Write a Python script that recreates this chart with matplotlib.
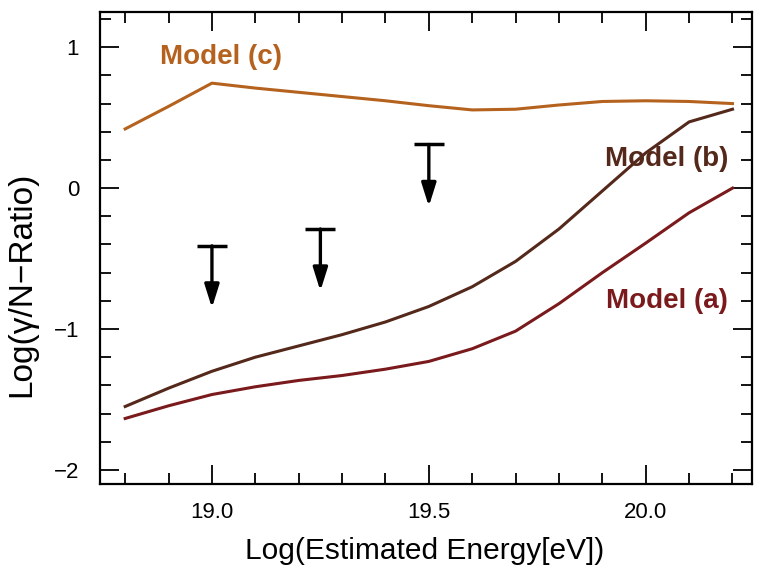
import matplotlib
matplotlib.use("Agg")
import matplotlib.pyplot as plt
from matplotlib.ticker import MultipleLocator

plt.rcParams['font.family'] = ['Liberation Sans', 'DejaVu Sans']

# Log10 of estimated primary energy (eV)
energy = [18.8, 18.9, 19.0, 19.1, 19.2, 19.3, 19.4, 19.5,
          19.6, 19.7, 19.8, 19.9, 20.0, 20.1, 20.2]

# Predicted log(gamma/N) ratios for three models
model_a = [-1.635, -1.545, -1.465, -1.41, -1.365, -1.33, -1.285, -1.23,
           -1.14, -1.015, -0.82, -0.60, -0.39, -0.175, 0.0]
model_b = [-1.55, -1.42, -1.30, -1.20, -1.12, -1.04, -0.95, -0.84,
           -0.70, -0.52, -0.29, -0.02, 0.25, 0.47, 0.56]
model_c = [0.42, 0.58, 0.745, 0.71, 0.68, 0.65, 0.62, 0.585,
           0.555, 0.56, 0.59, 0.615, 0.62, 0.615, 0.60]

# Observed upper limits
limit_energy = [19.0, 19.25, 19.5]
limit_value = [-0.41, -0.29, 0.31]

color_a = '#7a1a1c'
color_b = '#54281a'
color_c = '#b5621f'

fig = plt.figure(figsize=(7.6, 5.69), dpi=100)
ax = fig.add_axes([0.1316, 0.1494, 0.8579, 0.8295])

ax.plot(energy, model_c, color=color_c, lw=2.2)
ax.plot(energy, model_b, color=color_b, lw=2.2)
ax.plot(energy, model_a, color=color_a, lw=2.2)

arrow_len = 0.44
for xv, yv in zip(limit_energy, limit_value):
    ax.plot([xv], [yv], marker='_', ms=22, mew=2.5, color='black')
    ax.annotate('', xy=(xv, yv - arrow_len), xytext=(xv, yv),
                arrowprops=dict(arrowstyle='-|>,head_length=0.7,head_width=0.22',
                                lw=2.4, color='black', mutation_scale=20,
                                shrinkA=0, shrinkB=0))

ax.text(18.88, 0.93, 'Model (c)', color=color_c, fontsize=20, fontweight='bold',
        va='center', ha='left')
ax.text(20.19, 0.21, 'Model (b)', color=color_b, fontsize=20, fontweight='bold',
        va='center', ha='right')
ax.text(20.19, -0.80, 'Model (a)', color=color_a, fontsize=20, fontweight='bold',
        va='center', ha='right')

ax.set_xlim(18.742, 20.245)
ax.set_ylim(-2.1, 1.25)
ax.xaxis.set_minor_locator(MultipleLocator(0.1))
ax.yaxis.set_minor_locator(MultipleLocator(0.2))
ax.set_xticks([19.0, 19.5, 20.0])
ax.set_xticklabels(['19.0', '19.5', '20.0'])
ax.set_yticks([-2, -1, 0, 1])
ax.set_yticklabels(['\u22122', '\u22121', '0', '1'])

ax.tick_params(which='both', direction='in', top=True, right=True,
               labelsize=16, width=1.3)
ax.tick_params(axis='x', which='both', pad=13)
ax.tick_params(axis='y', which='both', pad=15)
ax.tick_params(which='major', length=14)
ax.tick_params(which='minor', length=8)
for sp in ax.spines.values():
    sp.set_linewidth(1.6)

ax.set_xlabel('Log(Estimated Energy[eV])', fontsize=21.5)
ax.xaxis.set_label_coords(0.498, -0.112)
ax.set_ylabel('Log(\u03b3/N\u2212Ratio)', fontsize=24)
ax.yaxis.set_label_coords(-0.097, 0.424)

fig.savefig('out.png', dpi=100)
